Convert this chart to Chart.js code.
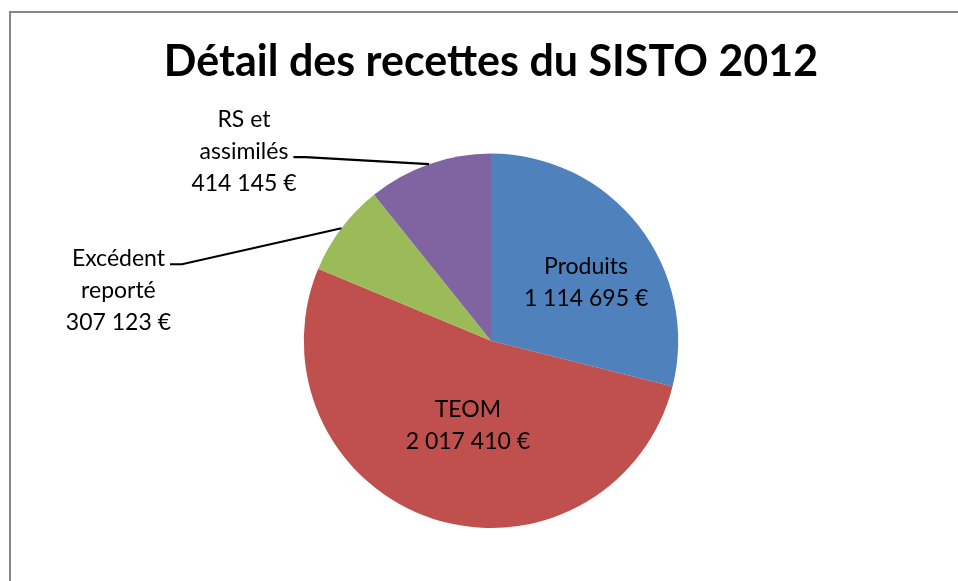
<!DOCTYPE html>
<html>
<head>
<meta charset="utf-8">
<script src="https://cdn.jsdelivr.net/npm/chart.js@4/dist/chart.umd.min.js"></script>
<style>
  html, body { margin: 0; padding: 0; background: #fff; }
  #wrap { width: 958px; height: 581px; }
</style>
</head>
<body>
<div id="wrap"><canvas id="pie-chart" width="958" height="581"></canvas></div>
<script>
// chart data
const categories = [["Produits"], ["TEOM"], ["Excédent", "reporté"], ["RS et", "assimilés"]];
const recettes = [1114695, 2017410, 307123, 414145];
const sliceColors = ['#4F81BD', '#C0504D', '#9BBB59', '#8064A2'];

// label placement: inside labels use a radius fraction (+ small nudge), outside ones an offset + leader line
const labelPlacement = [
    { inside: true, frac: 0.61, dx: 5, dy: 12 },
    { inside: true, frac: 0.46, dx: 4, dy: 3 },
    { inside: false, dx: -223, dy: 62, attachLine: 0 },
    { inside: false, dx: -185, dy: -13, attachLine: 1 }
];

const labelFont = '23px Lato, "Open Sans", sans-serif';
const lineHeight = 32;

function formatEuro(v) {
    return v.toString().replace(/\B(?=(\d{3})+(?!\d))/g, ' ') + ' €';
}

// draws the grey frame around the chart
const framePlugin = {
    id: 'frame',
    beforeDraw: function (chart) {
        const ctx = chart.ctx;
        ctx.save();
        ctx.strokeStyle = '#868686';
        ctx.lineWidth = 2;
        ctx.strokeRect(10, 12, 1000, 1000);
        ctx.restore();
    }
};

// draws the data labels (name + value) and leader lines
const labelPlugin = {
    id: 'sliceLabels',
    afterDatasetsDraw: function (chart) {
        const ctx = chart.ctx;
        const arcs = chart.getDatasetMeta(0).data;
        ctx.save();
        ctx.font = labelFont;
        ctx.fillStyle = '#000';
        ctx.textAlign = 'center';
        ctx.textBaseline = 'middle';
        for (var i = 0; i < arcs.length; i++) {
            var arc = arcs[i];
            var mid = (arc.startAngle + arc.endAngle) / 2;
            var lines = categories[i].concat([formatEuro(recettes[i])]);
            var p = labelPlacement[i];
            var cx, cy;
            if (p.inside) {
                cx = arc.x + Math.cos(mid) * arc.outerRadius * p.frac + p.dx;
                cy = arc.y + Math.sin(mid) * arc.outerRadius * p.frac + p.dy;
            } else {
                var ex = arc.x + Math.cos(mid) * arc.outerRadius;
                var ey = arc.y + Math.sin(mid) * arc.outerRadius;
                cx = ex + p.dx;
                cy = ey + p.dy;
                // leader line from the slice edge to the label
                var top = cy - (lines.length - 1) * lineHeight / 2;
                var ly = top + p.attachLine * lineHeight + 6;
                var lx = cx + ctx.measureText(lines[p.attachLine]).width / 2 + 5;
                ctx.beginPath();
                ctx.strokeStyle = '#000';
                ctx.lineWidth = 2.2;
                ctx.moveTo(ex, ey);
                ctx.lineTo(lx + 12, ly);
                ctx.lineTo(lx, ly);
                ctx.stroke();
            }
            var y0 = cy - (lines.length - 1) * lineHeight / 2;
            for (var j = 0; j < lines.length; j++) {
                ctx.fillText(lines[j], cx, y0 + j * lineHeight);
            }
        }
        ctx.restore();
    }
};

const config = {
    type: 'pie',
    data: {
        labels: categories.map(function (c) { return c.join(' '); }),
        datasets: [{
            data: recettes,
            backgroundColor: sliceColors,
            borderWidth: 0
        }]
    },
    options: {
        responsive: false,
        animation: false,
        layout: { padding: { left: 24, bottom: 53 } },
        plugins: {
            legend: { display: false },
            tooltip: { enabled: false },
            title: {
                display: true,
                text: 'Détail des recettes du SISTO 2012',
                color: '#000',
                font: { family: 'Lato, "Open Sans", sans-serif', size: 43, weight: 'bold', lineHeight: 1.2 },
                padding: { top: 36, bottom: 66 }
            }
        }
    },
    plugins: [framePlugin, labelPlugin]
};

const pieChart = new Chart(document.getElementById('pie-chart'), config);
</script>
</body>
</html>
